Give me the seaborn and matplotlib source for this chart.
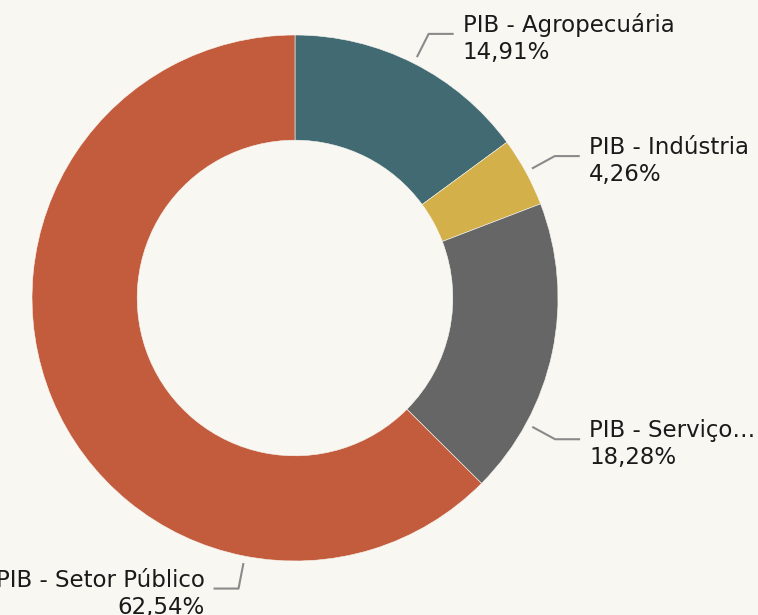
import numpy as np
import matplotlib
matplotlib.use("Agg")
import matplotlib.pyplot as plt
import seaborn as sns

# Participação de cada setor no PIB
setores = ["PIB - Agropecuária", "PIB - Indústria", "PIB - Serviço…", "PIB - Setor Público"]
percentuais = [14.91, 4.26, 18.28, 62.54]
rotulos_pct = ["14,91%", "4,26%", "18,28%", "62,54%"]
cores = ["#426A73", "#D3B04A", "#666666", "#C35B3D"]

fundo = "#F8F7F2"
sns.set_theme(style="white", rc={"figure.facecolor": fundo, "axes.facecolor": fundo})
plt.rcParams["font.family"] = ["DejaVu Sans"]

W, H = 758, 615
fig = plt.figure(figsize=(W / 100, H / 100), dpi=100)
ax = fig.add_axes([0, 0, 1, 1])
ax.set_xlim(0, W)
ax.set_ylim(0, H)
ax.set_aspect("equal")
ax.axis("off")

cx, cy, raio = 295, H - 298, 263
paleta = sns.color_palette(cores)
wedges, _ = ax.pie(percentuais, colors=paleta, startangle=90, counterclock=False,
                   radius=raio, center=(cx, cy),
                   wedgeprops=dict(width=raio * 0.4, edgecolor=fundo, linewidth=0.4))
ax.set_xlim(0, W)
ax.set_ylim(0, H)

# Ângulo dos rótulos: meio da fatia, deslocado nas fatias de baixo
ajuste_angulo = {2: -28.5, 3: -101.0}

for i, w in enumerate(wedges):
    ang = ajuste_angulo.get(i, (w.theta1 + w.theta2) / 2)
    a = np.deg2rad(ang)
    x0, y0 = cx + 270 * np.cos(a), cy + 270 * np.sin(a)
    x1, y1 = cx + 296 * np.cos(a), cy + 296 * np.sin(a)
    lado = 1 if np.cos(a) >= 0 else -1
    x2 = x1 + lado * 25
    ax.plot([x0, x1, x2], [y0, y1, y1], color="#8A8A8A", lw=1.5, solid_capstyle="butt")
    xt = x2 + lado * 9
    ha = "left" if lado > 0 else "right"
    ax.text(xt, y1 + 2, setores[i], ha=ha, va="baseline", fontsize=16.5, color="#1A1A1A")
    ax.text(xt, y1 - 25, rotulos_pct[i], ha=ha, va="baseline", fontsize=16.5, color="#1A1A1A")

fig.savefig("out.png", dpi=100, facecolor=fundo)
